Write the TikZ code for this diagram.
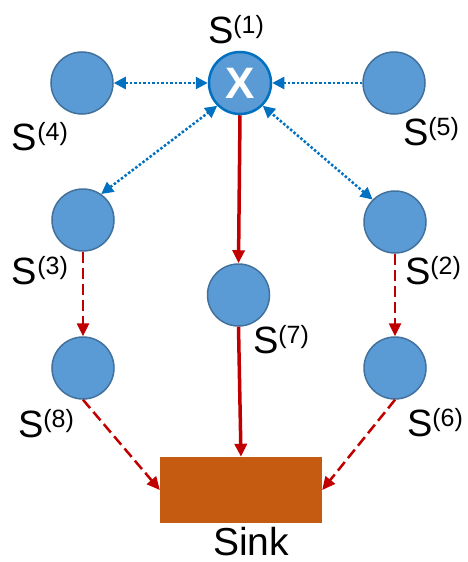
\documentclass[tikz,border=0pt]{standalone}
\usepackage{fontspec}
\setmainfont{Liberation Sans}
\usetikzlibrary{arrows.meta}
\definecolor{nodefill}{HTML}{5B9BD5}
\definecolor{nodeedge}{HTML}{41719C}
\definecolor{linkblue}{HTML}{0070C0}
\definecolor{linkred}{HTML}{C00000}
\definecolor{sinkfill}{HTML}{C55A11}
\newcommand{\slabel}[1]{\fontsize{38}{40}\selectfont S\raisebox{10pt}{\fontsize{25}{26}\selectfont(#1)}}
\tikzset{
  sensor/.style={circle, fill=nodefill, draw=nodeedge, line width=1.5pt, minimum size=62pt, inner sep=0pt},
  lbl/.style={anchor=base west, inner sep=0pt, outer sep=0pt},
  bluelink/.style={draw=linkblue, line width=2.5pt, dash pattern=on 2.5pt off 2pt, {Triangle[length=12pt,width=12pt]}-{Triangle[length=12pt,width=12pt]}},
  bluelinkone/.style={draw=linkblue, line width=2.5pt, dash pattern=on 2.5pt off 2pt, -{Triangle[length=12pt,width=12pt]}},
  redsolid/.style={draw=linkred, line width=3.5pt, -{Triangle[length=13pt,width=12pt]}},
  reddash/.style={draw=linkred, line width=2.5pt, dash pattern=on 11pt off 5pt, -{Triangle[length=13pt,width=12pt]}}
}
\begin{document}
\begin{tikzpicture}[x=1pt,y=-1pt]
\useasboundingbox (0,0) rectangle (467,562);
\fill[white] (0,0) rectangle (467,562);
% nodes
\node[sensor, draw=linkblue, line width=2.5pt, font=\fontsize{44}{44}\selectfont\bfseries, text=white] (S1) at (240,83) {X};
\node[sensor] (S4) at (82,83) {};
\node[sensor] (S5) at (394,83) {};
\node[sensor] (S3) at (83,220) {};
\node[sensor] (S2) at (395,222) {};
\node[sensor] (S7) at (238.5,295) {};
\node[sensor] (S8) at (83,368) {};
\node[sensor] (S6) at (395,368) {};
\node[fill=sinkfill, minimum width=162pt, minimum height=66pt, inner sep=0pt] (sink) at (241,490) {};
% labels
\node[lbl] (L1) at (208,43) {\slabel{1}};
\node[lbl] (L4) at (12,150) {\slabel{4}};
\node[lbl] (L5) at (403,145) {\slabel{5}};
\node[lbl] (L3) at (12,284) {\slabel{3}};
\node[lbl] (L2) at (405,284) {\slabel{2}};
\node[lbl] (L7) at (253,353) {\slabel{7}};
\node[lbl] (L8) at (18,437) {\slabel{8}};
\node[lbl] (L6) at (407,436) {\slabel{6}};
\node[lbl, font=\fontsize{39}{40}\selectfont] (LS) at (213,555) {Sink};
% connectors
\draw[bluelink] (S4) -- (S1);
\draw[bluelinkone] (S5) -- (S1);
\draw[bluelink] (S3.55) -- (S1.225);
\draw[bluelink] (S2.135) -- (S1.-45);
\draw[redsolid] (S1.south) -- (S7.north);
\draw[redsolid] (S7.south) -- (sink.north);
\draw[reddash] (S3.south) -- (S8.north);
\draw[reddash] (S2.south) -- (S6.north);
\draw[reddash] (S8.south) -- (sink.west);
\draw[reddash] (S6.south) -- (sink.east);
\end{tikzpicture}
\end{document}
